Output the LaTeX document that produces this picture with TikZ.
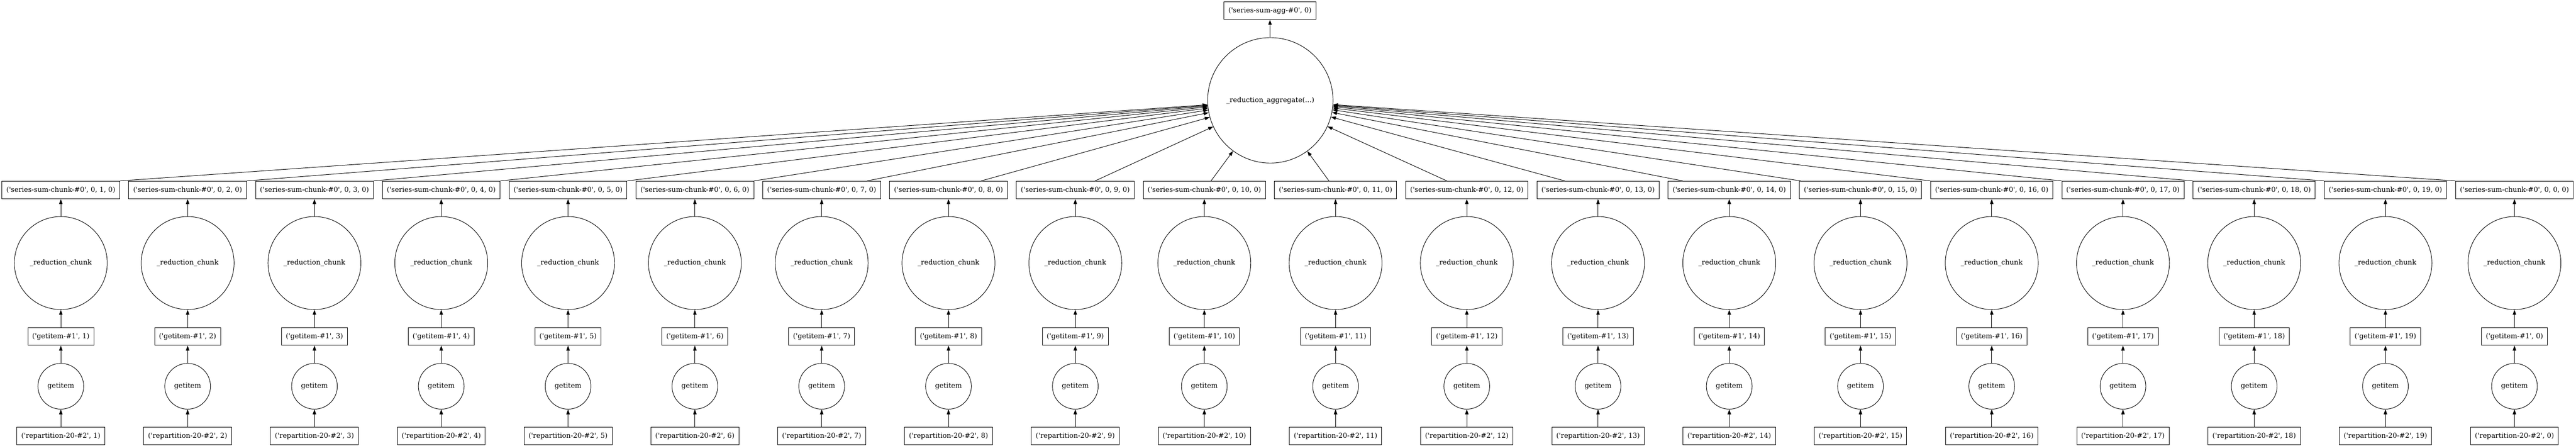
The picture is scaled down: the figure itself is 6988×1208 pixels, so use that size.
\documentclass[tikz,border=0pt]{standalone}
\usepackage{fontspec}
\usepackage{tikz}
\usetikzlibrary{arrows.meta}
\newfontfamily\dotfont{DejaVu Serif}[Ligatures=TeXOff]

\begin{document}
\begin{tikzpicture}[x=0.75pt,y=0.75pt]
\tikzstyle{every node}+=[font=\dotfont\fontsize{14}{16}\selectfont, line width=1pt]
\tikzstyle{keybox}=[draw, rectangle, minimum height=36pt, inner xsep=9pt, inner ysep=0pt]
\tikzstyle{itemcirc}=[draw, circle, inner sep=0pt, minimum size=93pt]
\tikzstyle{chunkcirc}=[draw, circle, inner sep=0pt, minimum size=189pt]
\tikzstyle{aggcirc}=[draw, circle, inner sep=0pt, minimum size=255pt]
\tikzstyle{dep}=[draw, line width=1pt, -{Triangle[length=10pt,width=7pt]}]
\useasboundingbox (0,0) rectangle (6988,-1208);
\node [keybox] (out) at (3445,-29) {('series-sum-agg-\#0', 0)};
\node [aggcirc] (agg) at (3446,-272) {\_reduction\_aggregate(...)};
\draw [dep] (agg) -- (out);
% column 1
\node [keybox] (sc1) at (165,-515) {('series-sum-chunk-\#0', 0, 1, 0)};
\node [chunkcirc] (rc1) at (165,-713) {\_reduction\_chunk};
\node [keybox] (gb1) at (165,-912) {('getitem-\#1', 1)};
\node [itemcirc] (gc1) at (165,-1047) {getitem};
\node [keybox] (rp1) at (165,-1182) {('repartition-20-\#2', 1)};
\draw [dep] (rp1) -- (gc1);
\draw [dep] (gc1) -- (gb1);
\draw [dep] (gb1) -- (rc1);
\draw [dep] (rc1) -- (sc1);
\draw [dep] (sc1.north east) -- (agg);
% column 2
\node [keybox] (sc2) at (509,-515) {('series-sum-chunk-\#0', 0, 2, 0)};
\node [chunkcirc] (rc2) at (509,-713) {\_reduction\_chunk};
\node [keybox] (gb2) at (509,-912) {('getitem-\#1', 2)};
\node [itemcirc] (gc2) at (509,-1047) {getitem};
\node [keybox] (rp2) at (509,-1182) {('repartition-20-\#2', 2)};
\draw [dep] (rp2) -- (gc2);
\draw [dep] (gc2) -- (gb2);
\draw [dep] (gb2) -- (rc2);
\draw [dep] (rc2) -- (sc2);
\draw [dep] (sc2.north east) -- (agg);
% column 3
\node [keybox] (sc3) at (853,-515) {('series-sum-chunk-\#0', 0, 3, 0)};
\node [chunkcirc] (rc3) at (853,-713) {\_reduction\_chunk};
\node [keybox] (gb3) at (853,-912) {('getitem-\#1', 3)};
\node [itemcirc] (gc3) at (853,-1047) {getitem};
\node [keybox] (rp3) at (853,-1182) {('repartition-20-\#2', 3)};
\draw [dep] (rp3) -- (gc3);
\draw [dep] (gc3) -- (gb3);
\draw [dep] (gb3) -- (rc3);
\draw [dep] (rc3) -- (sc3);
\draw [dep] (sc3.north east) -- (agg);
% column 4
\node [keybox] (sc4) at (1197,-515) {('series-sum-chunk-\#0', 0, 4, 0)};
\node [chunkcirc] (rc4) at (1197,-713) {\_reduction\_chunk};
\node [keybox] (gb4) at (1197,-912) {('getitem-\#1', 4)};
\node [itemcirc] (gc4) at (1197,-1047) {getitem};
\node [keybox] (rp4) at (1197,-1182) {('repartition-20-\#2', 4)};
\draw [dep] (rp4) -- (gc4);
\draw [dep] (gc4) -- (gb4);
\draw [dep] (gb4) -- (rc4);
\draw [dep] (rc4) -- (sc4);
\draw [dep] (sc4.north east) -- (agg);
% column 5
\node [keybox] (sc5) at (1541,-515) {('series-sum-chunk-\#0', 0, 5, 0)};
\node [chunkcirc] (rc5) at (1541,-713) {\_reduction\_chunk};
\node [keybox] (gb5) at (1541,-912) {('getitem-\#1', 5)};
\node [itemcirc] (gc5) at (1541,-1047) {getitem};
\node [keybox] (rp5) at (1541,-1182) {('repartition-20-\#2', 5)};
\draw [dep] (rp5) -- (gc5);
\draw [dep] (gc5) -- (gb5);
\draw [dep] (gb5) -- (rc5);
\draw [dep] (rc5) -- (sc5);
\draw [dep] (sc5.north east) -- (agg);
% column 6
\node [keybox] (sc6) at (1885,-515) {('series-sum-chunk-\#0', 0, 6, 0)};
\node [chunkcirc] (rc6) at (1885,-713) {\_reduction\_chunk};
\node [keybox] (gb6) at (1885,-912) {('getitem-\#1', 6)};
\node [itemcirc] (gc6) at (1885,-1047) {getitem};
\node [keybox] (rp6) at (1885,-1182) {('repartition-20-\#2', 6)};
\draw [dep] (rp6) -- (gc6);
\draw [dep] (gc6) -- (gb6);
\draw [dep] (gb6) -- (rc6);
\draw [dep] (rc6) -- (sc6);
\draw [dep] (sc6) -- (agg);
% column 7
\node [keybox] (sc7) at (2229,-515) {('series-sum-chunk-\#0', 0, 7, 0)};
\node [chunkcirc] (rc7) at (2229,-713) {\_reduction\_chunk};
\node [keybox] (gb7) at (2229,-912) {('getitem-\#1', 7)};
\node [itemcirc] (gc7) at (2229,-1047) {getitem};
\node [keybox] (rp7) at (2229,-1182) {('repartition-20-\#2', 7)};
\draw [dep] (rp7) -- (gc7);
\draw [dep] (gc7) -- (gb7);
\draw [dep] (gb7) -- (rc7);
\draw [dep] (rc7) -- (sc7);
\draw [dep] (sc7) -- (agg);
% column 8
\node [keybox] (sc8) at (2573,-515) {('series-sum-chunk-\#0', 0, 8, 0)};
\node [chunkcirc] (rc8) at (2573,-713) {\_reduction\_chunk};
\node [keybox] (gb8) at (2573,-912) {('getitem-\#1', 8)};
\node [itemcirc] (gc8) at (2573,-1047) {getitem};
\node [keybox] (rp8) at (2573,-1182) {('repartition-20-\#2', 8)};
\draw [dep] (rp8) -- (gc8);
\draw [dep] (gc8) -- (gb8);
\draw [dep] (gb8) -- (rc8);
\draw [dep] (rc8) -- (sc8);
\draw [dep] (sc8) -- (agg);
% column 9
\node [keybox] (sc9) at (2917,-515) {('series-sum-chunk-\#0', 0, 9, 0)};
\node [chunkcirc] (rc9) at (2917,-713) {\_reduction\_chunk};
\node [keybox] (gb9) at (2917,-912) {('getitem-\#1', 9)};
\node [itemcirc] (gc9) at (2917,-1047) {getitem};
\node [keybox] (rp9) at (2917,-1182) {('repartition-20-\#2', 9)};
\draw [dep] (rp9) -- (gc9);
\draw [dep] (gc9) -- (gb9);
\draw [dep] (gb9) -- (rc9);
\draw [dep] (rc9) -- (sc9);
\draw [dep] (sc9) -- (agg);
% column 10
\node [keybox] (sc10) at (3267,-515) {('series-sum-chunk-\#0', 0, 10, 0)};
\node [chunkcirc] (rc10) at (3267,-713) {\_reduction\_chunk};
\node [keybox] (gb10) at (3267,-912) {('getitem-\#1', 10)};
\node [itemcirc] (gc10) at (3267,-1047) {getitem};
\node [keybox] (rp10) at (3267,-1182) {('repartition-20-\#2', 10)};
\draw [dep] (rp10) -- (gc10);
\draw [dep] (gc10) -- (gb10);
\draw [dep] (gb10) -- (rc10);
\draw [dep] (rc10) -- (sc10);
\draw [dep] (sc10) -- (agg);
% column 11
\node [keybox] (sc11) at (3623,-515) {('series-sum-chunk-\#0', 0, 11, 0)};
\node [chunkcirc] (rc11) at (3623,-713) {\_reduction\_chunk};
\node [keybox] (gb11) at (3623,-912) {('getitem-\#1', 11)};
\node [itemcirc] (gc11) at (3623,-1047) {getitem};
\node [keybox] (rp11) at (3623,-1182) {('repartition-20-\#2', 11)};
\draw [dep] (rp11) -- (gc11);
\draw [dep] (gc11) -- (gb11);
\draw [dep] (gb11) -- (rc11);
\draw [dep] (rc11) -- (sc11);
\draw [dep] (sc11) -- (agg);
% column 12
\node [keybox] (sc12) at (3979,-515) {('series-sum-chunk-\#0', 0, 12, 0)};
\node [chunkcirc] (rc12) at (3979,-713) {\_reduction\_chunk};
\node [keybox] (gb12) at (3979,-912) {('getitem-\#1', 12)};
\node [itemcirc] (gc12) at (3979,-1047) {getitem};
\node [keybox] (rp12) at (3979,-1182) {('repartition-20-\#2', 12)};
\draw [dep] (rp12) -- (gc12);
\draw [dep] (gc12) -- (gb12);
\draw [dep] (gb12) -- (rc12);
\draw [dep] (rc12) -- (sc12);
\draw [dep] (sc12) -- (agg);
% column 13
\node [keybox] (sc13) at (4335,-515) {('series-sum-chunk-\#0', 0, 13, 0)};
\node [chunkcirc] (rc13) at (4335,-713) {\_reduction\_chunk};
\node [keybox] (gb13) at (4335,-912) {('getitem-\#1', 13)};
\node [itemcirc] (gc13) at (4335,-1047) {getitem};
\node [keybox] (rp13) at (4335,-1182) {('repartition-20-\#2', 13)};
\draw [dep] (rp13) -- (gc13);
\draw [dep] (gc13) -- (gb13);
\draw [dep] (gb13) -- (rc13);
\draw [dep] (rc13) -- (sc13);
\draw [dep] (sc13) -- (agg);
% column 14
\node [keybox] (sc14) at (4691,-515) {('series-sum-chunk-\#0', 0, 14, 0)};
\node [chunkcirc] (rc14) at (4691,-713) {\_reduction\_chunk};
\node [keybox] (gb14) at (4691,-912) {('getitem-\#1', 14)};
\node [itemcirc] (gc14) at (4691,-1047) {getitem};
\node [keybox] (rp14) at (4691,-1182) {('repartition-20-\#2', 14)};
\draw [dep] (rp14) -- (gc14);
\draw [dep] (gc14) -- (gb14);
\draw [dep] (gb14) -- (rc14);
\draw [dep] (rc14) -- (sc14);
\draw [dep] (sc14) -- (agg);
% column 15
\node [keybox] (sc15) at (5047,-515) {('series-sum-chunk-\#0', 0, 15, 0)};
\node [chunkcirc] (rc15) at (5047,-713) {\_reduction\_chunk};
\node [keybox] (gb15) at (5047,-912) {('getitem-\#1', 15)};
\node [itemcirc] (gc15) at (5047,-1047) {getitem};
\node [keybox] (rp15) at (5047,-1182) {('repartition-20-\#2', 15)};
\draw [dep] (rp15) -- (gc15);
\draw [dep] (gc15) -- (gb15);
\draw [dep] (gb15) -- (rc15);
\draw [dep] (rc15) -- (sc15);
\draw [dep] (sc15) -- (agg);
% column 16
\node [keybox] (sc16) at (5403,-515) {('series-sum-chunk-\#0', 0, 16, 0)};
\node [chunkcirc] (rc16) at (5403,-713) {\_reduction\_chunk};
\node [keybox] (gb16) at (5403,-912) {('getitem-\#1', 16)};
\node [itemcirc] (gc16) at (5403,-1047) {getitem};
\node [keybox] (rp16) at (5403,-1182) {('repartition-20-\#2', 16)};
\draw [dep] (rp16) -- (gc16);
\draw [dep] (gc16) -- (gb16);
\draw [dep] (gb16) -- (rc16);
\draw [dep] (rc16) -- (sc16);
\draw [dep] (sc16.north west) -- (agg);
% column 17
\node [keybox] (sc17) at (5759,-515) {('series-sum-chunk-\#0', 0, 17, 0)};
\node [chunkcirc] (rc17) at (5759,-713) {\_reduction\_chunk};
\node [keybox] (gb17) at (5759,-912) {('getitem-\#1', 17)};
\node [itemcirc] (gc17) at (5759,-1047) {getitem};
\node [keybox] (rp17) at (5759,-1182) {('repartition-20-\#2', 17)};
\draw [dep] (rp17) -- (gc17);
\draw [dep] (gc17) -- (gb17);
\draw [dep] (gb17) -- (rc17);
\draw [dep] (rc17) -- (sc17);
\draw [dep] (sc17.north west) -- (agg);
% column 18
\node [keybox] (sc18) at (6115,-515) {('series-sum-chunk-\#0', 0, 18, 0)};
\node [chunkcirc] (rc18) at (6115,-713) {\_reduction\_chunk};
\node [keybox] (gb18) at (6115,-912) {('getitem-\#1', 18)};
\node [itemcirc] (gc18) at (6115,-1047) {getitem};
\node [keybox] (rp18) at (6115,-1182) {('repartition-20-\#2', 18)};
\draw [dep] (rp18) -- (gc18);
\draw [dep] (gc18) -- (gb18);
\draw [dep] (gb18) -- (rc18);
\draw [dep] (rc18) -- (sc18);
\draw [dep] (sc18.north west) -- (agg);
% column 19
\node [keybox] (sc19) at (6471,-515) {('series-sum-chunk-\#0', 0, 19, 0)};
\node [chunkcirc] (rc19) at (6471,-713) {\_reduction\_chunk};
\node [keybox] (gb19) at (6471,-912) {('getitem-\#1', 19)};
\node [itemcirc] (gc19) at (6471,-1047) {getitem};
\node [keybox] (rp19) at (6471,-1182) {('repartition-20-\#2', 19)};
\draw [dep] (rp19) -- (gc19);
\draw [dep] (gc19) -- (gb19);
\draw [dep] (gb19) -- (rc19);
\draw [dep] (rc19) -- (sc19);
\draw [dep] (sc19.north west) -- (agg);
% column 0
\node [keybox] (sc0) at (6821,-515) {('series-sum-chunk-\#0', 0, 0, 0)};
\node [chunkcirc] (rc0) at (6821,-713) {\_reduction\_chunk};
\node [keybox] (gb0) at (6821,-912) {('getitem-\#1', 0)};
\node [itemcirc] (gc0) at (6821,-1047) {getitem};
\node [keybox] (rp0) at (6821,-1182) {('repartition-20-\#2', 0)};
\draw [dep] (rp0) -- (gc0);
\draw [dep] (gc0) -- (gb0);
\draw [dep] (gb0) -- (rc0);
\draw [dep] (rc0) -- (sc0);
\draw [dep] (sc0.north west) -- (agg);
\end{tikzpicture}
\end{document}
